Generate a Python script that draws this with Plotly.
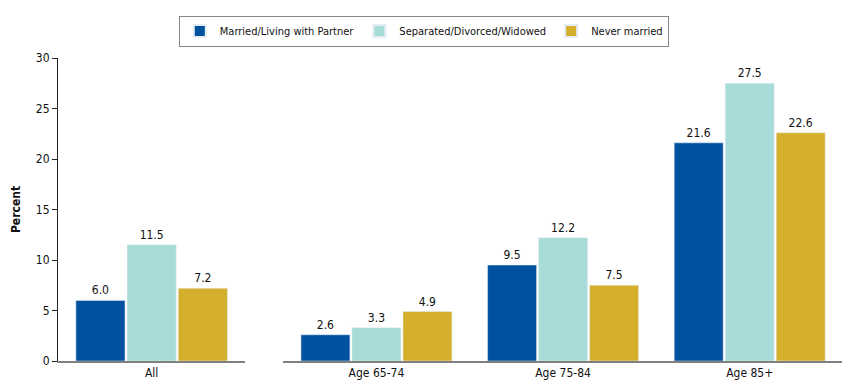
import plotly.graph_objects as go

groups_left = ["All"]
groups_right = ["Age 65-74", "Age 75-84", "Age 85+"]
series_names = ["Married/Living with Partner", "Separated/Divorced/Widowed", "Never married"]
married = [6.0, 2.6, 9.5, 21.6]
separated = [11.5, 3.3, 12.2, 27.5]
never = [7.2, 4.9, 7.5, 22.6]
y_ticks = [0, 5, 10, 15, 20, 25, 30]

colors = ["#0052A0", "#A8DCD8", "#D4AF2C"]
FONT = "DejaVu Sans Condensed, Liberation Sans Narrow, sans-serif"

fig = go.Figure()
for name, vals, col in zip(series_names, [married, separated, never], colors):
    fig.add_trace(go.Bar(x=groups_left, y=vals[:1], name=name, marker_color=col,
                         texttemplate="%{y:.1f}", textposition="outside", cliponaxis=False,
                         textfont=dict(size=12, color="#111"), legendgroup=name,
                         xaxis="x", yaxis="y", hoverinfo="skip"))
    fig.add_trace(go.Bar(x=groups_right, y=vals[1:], name=name, marker_color=col,
                         texttemplate="%{y:.1f}", textposition="outside", cliponaxis=False,
                         textfont=dict(size=12, color="#111"), legendgroup=name,
                         showlegend=False, xaxis="x2", yaxis="y2", hoverinfo="skip"))

# page body has an 8px margin, so the figure is offset by (8, 8) in the window
fig.update_layout(
    width=842, height=381,
    margin=dict(l=47, r=7, t=50, b=28),
    paper_bgcolor="white", plot_bgcolor="white",
    font=dict(family=FONT, size=12, color="#111"),
    barmode="group", bargap=0.18, bargroupgap=0.04,
    showlegend=True,
    legend=dict(orientation="h", x=0.466, xanchor="center", y=1.14, yanchor="top",
                bordercolor="#888", borderwidth=1, font=dict(size=11),
                itemsizing="constant", traceorder="normal"),
    xaxis=dict(domain=[0, 0.2386], showline=True, linecolor="#808080", linewidth=2,
               ticks="", showgrid=False, tickfont=dict(size=12)),
    xaxis2=dict(domain=[0.2868, 1], showline=True, linecolor="#808080", linewidth=2,
                ticks="", showgrid=False, tickfont=dict(size=12)),
    yaxis=dict(range=[0, 30], tickvals=y_ticks, showline=True, linecolor="#222", linewidth=1,
               ticks="outside", ticklen=5, tickcolor="#222", showgrid=False, zeroline=False,
               title=dict(text="<b>Percent</b>", font=dict(size=12), standoff=12),
               tickfont=dict(size=12), anchor="x"),
    yaxis2=dict(range=[0, 30], matches="y", visible=False, anchor="x2", showgrid=False),
)

fig.write_html("out.html")
